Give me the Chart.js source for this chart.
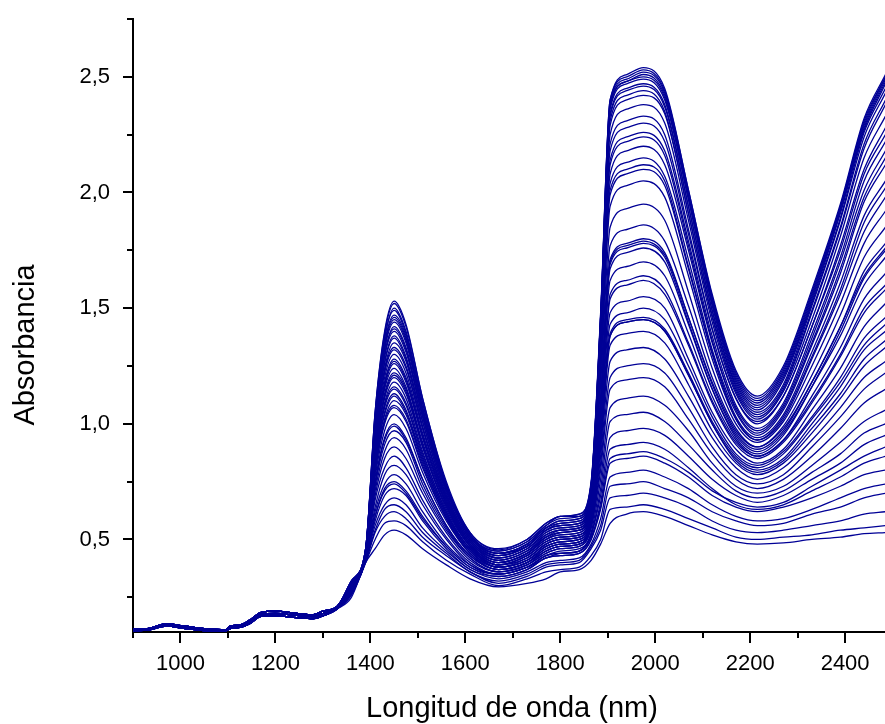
<!DOCTYPE html>
<html>
<head>
<meta charset="utf-8">
<title>Absorbancia NIR</title>
<script src="https://cdn.jsdelivr.net/npm/chart.js@4.4.1/dist/chart.umd.min.js"></script>
<style>
  body { margin: 0; background: #fff; }
  canvas { display: block; }
</style>
</head>
<body>
<canvas id="spectraChart" width="885" height="724"></canvas>
<script>
// axis text
const xTitle = "Longitud de onda (nm)";
const yTitle = "Absorbancia";

// tick values
const xMajorTicks = [1000, 1200, 1400, 1600, 1800, 2000, 2200, 2400];
const xMinorTicks = [900, 1100, 1300, 1500, 1700, 1900, 2100, 2300];
const yMajorTicks = [0.5, 1.0, 1.5, 2.0, 2.5];
const yMinorTicks = [0.25, 0.75, 1.25, 1.75, 2.25, 2.75];
const yTickLabels = ["0,5", "1,0", "1,5", "2,0", "2,5"];

// short-wave part, nearly the same for every sample (three bands of the bundle)
const wavelengthsLow = [900, 930, 970, 1010, 1050, 1095, 1105, 1125, 1145, 1170, 1200, 1245, 1280, 1300];
const baseHigh = [0.115, 0.115, 0.135, 0.125, 0.115, 0.11, 0.125, 0.13, 0.15, 0.185, 0.19, 0.18, 0.175, 0.19];
const baseMid = [0.11, 0.112, 0.13, 0.12, 0.11, 0.107, 0.12, 0.125, 0.143, 0.177, 0.18, 0.172, 0.167, 0.18];
const baseLow = [0.105, 0.108, 0.125, 0.115, 0.106, 0.104, 0.115, 0.12, 0.135, 0.168, 0.17, 0.162, 0.158, 0.17];

// main part of the spectra
const wavelengths = [1330, 1360, 1390, 1410, 1430, 1450, 1475, 1510, 1560, 1610, 1670, 1730, 1770, 1800, 1840,
  1865, 1885, 1905, 1940, 1975, 2020, 2070, 2120, 2170, 2215, 2270, 2330, 2390, 2440, 2485];

const s01 = [0.21,0.32,0.46,1.05,1.40,1.53,1.43,1.11,0.75,0.53,0.46,0.50,0.57,0.60,0.61,0.75,1.48,2.40,2.51,2.54,2.45,2.01,1.56,1.23,1.12,1.25,1.58,1.95,2.32,2.51];
const s02 = [0.21,0.32,0.46,1.04,1.37,1.50,1.40,1.09,0.74,0.52,0.45,0.49,0.56,0.59,0.60,0.74,1.46,2.39,2.49,2.52,2.43,1.99,1.54,1.21,1.10,1.23,1.56,1.94,2.30,2.50];
const s03 = [0.21,0.32,0.46,1.02,1.35,1.47,1.38,1.07,0.73,0.52,0.44,0.48,0.55,0.58,0.59,0.73,1.46,2.37,2.48,2.50,2.41,1.97,1.52,1.19,1.08,1.21,1.54,1.92,2.28,2.48];
const s04 = [0.21,0.31,0.45,1.01,1.33,1.45,1.36,1.06,0.72,0.51,0.44,0.48,0.55,0.57,0.58,0.71,1.43,2.33,2.44,2.46,2.37,1.94,1.49,1.17,1.06,1.19,1.52,1.89,2.26,2.45];
const s05 = [0.21,0.31,0.45,0.99,1.30,1.42,1.33,1.04,0.71,0.51,0.43,0.47,0.54,0.56,0.57,0.70,1.40,2.29,2.40,2.42,2.34,1.91,1.47,1.15,1.04,1.16,1.49,1.85,2.21,2.40];
const s06 = [0.21,0.31,0.45,0.98,1.29,1.40,1.31,1.03,0.70,0.50,0.43,0.47,0.54,0.56,0.57,0.70,1.38,2.25,2.36,2.38,2.30,1.88,1.44,1.13,1.02,1.14,1.45,1.81,2.15,2.33];
const s07 = [0.21,0.31,0.45,0.97,1.27,1.38,1.29,1.01,0.69,0.50,0.42,0.46,0.53,0.55,0.56,0.69,1.36,2.21,2.31,2.33,2.25,1.84,1.41,1.11,1.00,1.12,1.42,1.77,2.10,2.28];
const s08 = [0.21,0.31,0.45,0.95,1.24,1.35,1.27,0.99,0.68,0.49,0.42,0.46,0.52,0.54,0.55,0.68,1.32,2.14,2.24,2.26,2.18,1.79,1.38,1.08,0.98,1.09,1.39,1.72,2.05,2.22];
const s09 = [0.21,0.31,0.45,0.94,1.23,1.33,1.25,0.98,0.68,0.49,0.41,0.45,0.52,0.54,0.55,0.67,1.29,2.08,2.18,2.20,2.12,1.75,1.35,1.07,0.97,1.08,1.37,1.70,2.01,2.18];
const s10 = [0.21,0.31,0.45,0.92,1.20,1.30,1.22,0.96,0.67,0.48,0.41,0.45,0.51,0.53,0.54,0.66,1.26,2.04,2.13,2.15,2.07,1.71,1.32,1.05,0.95,1.06,1.34,1.65,1.96,2.12];
const s11 = [0.21,0.30,0.44,0.91,1.18,1.28,1.20,0.95,0.66,0.48,0.40,0.44,0.51,0.53,0.54,0.66,1.25,2.01,2.10,2.12,2.05,1.68,1.31,1.03,0.94,1.04,1.31,1.61,1.90,2.05];
const s12 = [0.21,0.30,0.44,0.90,1.16,1.26,1.18,0.94,0.65,0.48,0.40,0.44,0.50,0.52,0.53,0.65,1.21,1.94,2.03,2.05,1.98,1.64,1.28,1.02,0.93,1.02,1.28,1.56,1.83,1.98];
const s13 = [0.21,0.30,0.44,0.89,1.15,1.24,1.16,0.92,0.65,0.47,0.40,0.44,0.50,0.52,0.53,0.64,1.17,1.85,1.93,1.95,1.88,1.57,1.24,1.00,0.92,1.01,1.25,1.52,1.78,1.92];
const s14 = [0.21,0.30,0.44,0.87,1.13,1.22,1.15,0.91,0.64,0.47,0.39,0.43,0.49,0.51,0.52,0.63,1.12,1.77,1.84,1.86,1.79,1.51,1.20,0.98,0.90,0.99,1.21,1.47,1.72,1.85];
const s15 = [0.21,0.30,0.44,0.86,1.11,1.20,1.13,0.90,0.63,0.47,0.39,0.43,0.49,0.51,0.52,0.62,1.10,1.71,1.78,1.80,1.74,1.46,1.17,0.96,0.89,0.97,1.18,1.42,1.66,1.78];
const s16 = [0.21,0.30,0.44,0.85,1.09,1.18,1.11,0.88,0.62,0.46,0.39,0.42,0.48,0.50,0.51,0.61,1.07,1.67,1.74,1.76,1.70,1.43,1.15,0.95,0.88,0.96,1.16,1.38,1.60,1.72];
const s17 = [0.21,0.30,0.44,0.83,1.07,1.15,1.08,0.86,0.61,0.46,0.38,0.42,0.48,0.50,0.51,0.61,1.05,1.62,1.68,1.70,1.64,1.39,1.12,0.93,0.86,0.93,1.12,1.33,1.54,1.65];
const s18 = [0.20,0.29,0.43,0.82,1.04,1.12,1.05,0.84,0.60,0.45,0.38,0.41,0.47,0.49,0.50,0.60,1.00,1.54,1.60,1.62,1.56,1.34,1.09,0.91,0.85,0.92,1.09,1.29,1.48,1.58];
const s19 = [0.20,0.29,0.43,0.81,1.02,1.10,1.04,0.83,0.60,0.45,0.38,0.41,0.47,0.49,0.50,0.59,0.97,1.48,1.53,1.55,1.50,1.28,1.05,0.89,0.83,0.89,1.06,1.24,1.42,1.52];
const s20 = [0.20,0.29,0.43,0.79,1.00,1.07,1.01,0.81,0.59,0.44,0.37,0.40,0.46,0.48,0.49,0.58,0.94,1.43,1.48,1.50,1.45,1.25,1.03,0.87,0.82,0.88,1.03,1.20,1.37,1.46];
const s21 = [0.20,0.29,0.43,0.77,0.97,1.04,0.98,0.79,0.58,0.44,0.37,0.40,0.46,0.48,0.49,0.58,0.92,1.38,1.44,1.45,1.40,1.21,1.00,0.85,0.80,0.85,1.00,1.16,1.32,1.40];
const s22 = [0.20,0.29,0.43,0.75,0.94,1.00,0.94,0.76,0.56,0.43,0.37,0.40,0.45,0.47,0.48,0.57,0.89,1.34,1.39,1.40,1.35,1.17,0.97,0.83,0.78,0.83,0.96,1.11,1.25,1.33];
const s23 = [0.20,0.29,0.43,0.73,0.91,0.97,0.92,0.74,0.55,0.42,0.36,0.39,0.45,0.47,0.48,0.56,0.86,1.27,1.32,1.33,1.28,1.12,0.94,0.81,0.76,0.81,0.93,1.07,1.20,1.27];
const s24 = [0.20,0.28,0.42,0.71,0.88,0.94,0.89,0.72,0.54,0.42,0.36,0.39,0.44,0.46,0.47,0.55,0.83,1.20,1.25,1.26,1.22,1.07,0.90,0.78,0.74,0.78,0.90,1.03,1.15,1.22];
const s25 = [0.20,0.28,0.42,0.69,0.85,0.90,0.85,0.70,0.53,0.41,0.36,0.39,0.44,0.46,0.47,0.55,0.80,1.15,1.19,1.20,1.16,1.02,0.87,0.76,0.72,0.76,0.86,0.98,1.09,1.15];
const s26 = [0.20,0.28,0.42,0.67,0.81,0.86,0.81,0.67,0.51,0.40,0.35,0.38,0.43,0.45,0.46,0.53,0.76,1.07,1.11,1.12,1.08,0.97,0.83,0.73,0.70,0.73,0.82,0.92,1.01,1.06];
const s27 = [0.20,0.28,0.42,0.64,0.78,0.82,0.78,0.65,0.50,0.39,0.35,0.38,0.43,0.44,0.45,0.52,0.72,1.01,1.04,1.05,1.01,0.91,0.80,0.71,0.68,0.71,0.79,0.87,0.96,1.00];
const s28 = [0.20,0.27,0.41,0.62,0.74,0.78,0.74,0.62,0.48,0.39,0.35,0.38,0.43,0.44,0.45,0.52,0.69,0.94,0.97,0.98,0.95,0.86,0.76,0.69,0.66,0.69,0.76,0.83,0.91,0.95];
const s29 = [0.20,0.27,0.41,0.60,0.71,0.74,0.70,0.59,0.47,0.38,0.34,0.37,0.42,0.43,0.44,0.50,0.66,0.89,0.91,0.92,0.89,0.81,0.72,0.65,0.63,0.65,0.71,0.77,0.83,0.86];
const s30 = [0.20,0.27,0.41,0.58,0.69,0.72,0.69,0.58,0.46,0.37,0.34,0.37,0.42,0.43,0.44,0.50,0.63,0.83,0.85,0.86,0.83,0.77,0.69,0.64,0.62,0.64,0.68,0.73,0.78,0.80];
const s31 = [0.20,0.27,0.41,0.56,0.65,0.68,0.65,0.55,0.45,0.37,0.33,0.36,0.40,0.41,0.42,0.48,0.59,0.77,0.79,0.80,0.77,0.72,0.65,0.60,0.58,0.59,0.63,0.68,0.72,0.74];
const s32 = [0.20,0.27,0.41,0.54,0.63,0.65,0.62,0.53,0.44,0.36,0.32,0.35,0.39,0.40,0.41,0.47,0.56,0.73,0.74,0.75,0.72,0.68,0.62,0.58,0.56,0.57,0.61,0.64,0.68,0.70];
const s33 = [0.20,0.26,0.40,0.53,0.60,0.62,0.59,0.51,0.43,0.36,0.31,0.34,0.38,0.39,0.40,0.46,0.54,0.68,0.69,0.70,0.68,0.64,0.58,0.54,0.53,0.54,0.56,0.58,0.61,0.62];
const s34 = [0.20,0.26,0.40,0.50,0.57,0.58,0.56,0.49,0.41,0.35,0.30,0.33,0.36,0.37,0.38,0.43,0.50,0.63,0.64,0.65,0.63,0.59,0.55,0.51,0.50,0.51,0.52,0.54,0.55,0.56];
const s35 = [0.20,0.25,0.40,0.46,0.52,0.54,0.52,0.46,0.39,0.33,0.295,0.31,0.33,0.36,0.37,0.41,0.48,0.57,0.61,0.62,0.60,0.56,0.52,0.49,0.48,0.485,0.50,0.51,0.525,0.53];
// extra samples inside the dense bands
const s36 = [0.21,0.32,0.46,1.05,1.39,1.52,1.42,1.11,0.74,0.53,0.455,0.50,0.57,0.60,0.61,0.74,1.47,2.40,2.50,2.53,2.44,2.01,1.55,1.22,1.11,1.24,1.57,1.94,2.31,2.50];
const s37 = [0.21,0.32,0.46,1.03,1.37,1.49,1.39,1.09,0.73,0.52,0.45,0.49,0.56,0.60,0.60,0.74,1.46,2.38,2.48,2.51,2.42,1.99,1.53,1.20,1.09,1.22,1.55,1.93,2.29,2.49];
const s38 = [0.21,0.32,0.46,1.01,1.34,1.46,1.37,1.07,0.72,0.52,0.44,0.48,0.55,0.58,0.59,0.72,1.44,2.36,2.47,2.49,2.40,1.97,1.51,1.18,1.07,1.20,1.53,1.91,2.27,2.47];
const s39 = [0.21,0.31,0.45,1.00,1.32,1.44,1.35,1.05,0.72,0.51,0.44,0.47,0.54,0.57,0.58,0.71,1.43,2.34,2.45,2.47,2.38,1.94,1.49,1.16,1.05,1.17,1.51,1.88,2.24,2.43];
const s40 = [0.21,0.31,0.45,0.99,1.30,1.41,1.32,1.03,0.71,0.51,0.43,0.47,0.54,0.56,0.57,0.70,1.41,2.31,2.42,2.44,2.35,1.91,1.46,1.14,1.03,1.15,1.48,1.84,2.19,2.38];
const s41 = [0.21,0.31,0.45,0.96,1.26,1.37,1.28,1.01,0.69,0.50,0.42,0.46,0.53,0.55,0.56,0.69,1.34,2.18,2.28,2.30,2.22,1.82,1.41,1.11,1.01,1.12,1.42,1.75,2.08,2.25];
const s42 = [0.21,0.31,0.45,0.93,1.22,1.32,1.24,0.98,0.67,0.49,0.41,0.45,0.51,0.54,0.55,0.67,1.31,2.12,2.22,2.24,2.16,1.77,1.36,1.06,0.96,1.07,1.35,1.67,1.98,2.15];
const s43 = [0.21,0.30,0.44,0.90,1.17,1.27,1.19,0.94,0.66,0.48,0.40,0.44,0.50,0.53,0.54,0.65,1.24,1.99,2.08,2.10,2.03,1.67,1.30,1.02,0.93,1.03,1.29,1.58,1.87,2.02];
const s44 = [0.21,0.30,0.44,0.87,1.12,1.21,1.14,0.90,0.64,0.47,0.39,0.43,0.49,0.51,0.52,0.62,1.09,1.70,1.77,1.79,1.73,1.46,1.18,0.97,0.90,0.98,1.18,1.42,1.64,1.76];
const s45 = [0.21,0.30,0.44,0.84,1.08,1.16,1.09,0.87,0.62,0.46,0.39,0.42,0.48,0.50,0.51,0.61,1.08,1.69,1.76,1.78,1.72,1.44,1.15,0.94,0.87,0.95,1.16,1.40,1.63,1.75];
const s46 = [0.21,0.30,0.44,0.82,1.05,1.13,1.06,0.85,0.61,0.45,0.38,0.41,0.47,0.49,0.50,0.60,1.01,1.56,1.62,1.64,1.58,1.35,1.10,0.92,0.86,0.93,1.10,1.30,1.50,1.60];
const s47 = [0.20,0.29,0.43,0.79,1.01,1.08,1.02,0.82,0.59,0.44,0.38,0.41,0.46,0.48,0.49,0.58,0.93,1.39,1.45,1.46,1.41,1.22,1.01,0.86,0.81,0.87,1.02,1.18,1.34,1.43];
const s48 = [0.20,0.29,0.43,0.74,0.93,0.99,0.93,0.76,0.56,0.43,0.37,0.40,0.45,0.47,0.48,0.57,0.92,1.38,1.44,1.45,1.40,1.21,1.00,0.84,0.79,0.84,0.98,1.13,1.28,1.36];
const s49 = [0.20,0.27,0.41,0.60,0.72,0.75,0.71,0.60,0.47,0.38,0.35,0.38,0.42,0.44,0.45,0.51,0.64,0.85,0.87,0.88,0.85,0.79,0.71,0.66,0.64,0.66,0.73,0.80,0.86,0.90];

const spectra = [s01, s02, s03, s04, s05, s06, s07, s08, s09, s10, s11, s12, s13, s14, s15, s16, s17, s18,
  s19, s20, s21, s22, s23, s24, s25, s26, s27, s28, s29, s30, s31, s32, s33, s34, s35,
  s36, s37, s38, s39, s40, s41, s42, s43, s44, s45, s46, s47, s48, s49];
// which short-wave band each sample follows (0 high, 1 mid, 2 low)
const baselineIndex = [0,0,0,0,0,0,0,0,0,0,0,0, 1,1,1,1,1,1,1,1,1,1,1,1, 2,2,2,2,2,2,2,2,2,2,2,
  0,0,0,0,0, 1,1,1,1,1, 2,2,2,2];
const baselines = [baseHigh, baseMid, baseLow];

const lineColor = "#000096";
const fontFamily = "'Liberation Sans', Arial, sans-serif";

// build the datasets from the arrays above
const datasets = spectra.map((values, i) => {
  const base = baselines[baselineIndex[i]];
  const lowPart = wavelengthsLow.map((x, j) => ({ x: x, y: base[j] }));
  const mainPart = wavelengths.map((x, j) => ({ x: x, y: values[j] }));
  return {
    label: "Muestra " + (i + 1),
    data: lowPart.concat(mainPart),
    borderColor: lineColor,
    borderWidth: 1.3,
    pointRadius: 0,
    fill: false,
    cubicInterpolationMode: "monotone"
  };
});

// outward tick marks, long for labelled values and short in between
const tickMarks = {
  id: "tickMarks",
  afterDraw(chart) {
    const { ctx, chartArea } = chart;
    const xScale = chart.scales.x;
    const yScale = chart.scales.y;
    ctx.save();
    ctx.strokeStyle = "#000";
    ctx.lineWidth = 2;
    ctx.beginPath();
    xMajorTicks.forEach(v => {
      const px = Math.round(xScale.getPixelForValue(v));
      ctx.moveTo(px, chartArea.bottom);
      ctx.lineTo(px, chartArea.bottom + 11);
    });
    xMinorTicks.forEach(v => {
      const px = Math.round(xScale.getPixelForValue(v));
      ctx.moveTo(px, chartArea.bottom);
      ctx.lineTo(px, chartArea.bottom + 6);
    });
    yMajorTicks.forEach(v => {
      const py = Math.round(yScale.getPixelForValue(v));
      ctx.moveTo(chartArea.left, py);
      ctx.lineTo(chartArea.left - 10, py);
    });
    yMinorTicks.forEach(v => {
      const py = Math.round(yScale.getPixelForValue(v));
      ctx.moveTo(chartArea.left, py);
      ctx.lineTo(chartArea.left - 6, py);
    });
    ctx.stroke();
    ctx.restore();
  }
};

// axis titles
const axisTitles = {
  id: "axisTitles",
  afterDraw(chart) {
    const ctx = chart.ctx;
    ctx.save();
    ctx.fillStyle = "#000";
    ctx.font = "29px " + fontFamily;
    ctx.textAlign = "center";
    ctx.textBaseline = "alphabetic";
    ctx.fillText(xTitle, 512, 717);
    ctx.translate(34, 345);
    ctx.rotate(-Math.PI / 2);
    ctx.fillText(yTitle, 0, 0);
    ctx.restore();
  }
};

const chart = new Chart(document.getElementById("spectraChart"), {
  type: "line",
  data: { datasets: datasets },
  plugins: [tickMarks, axisTitles],
  options: {
    responsive: false,
    devicePixelRatio: 1,
    animation: false,
    events: [],
    layout: { padding: { top: 19, right: 0, bottom: 0, left: 0 } },
    plugins: {
      legend: { display: false },
      tooltip: { enabled: false }
    },
    scales: {
      x: {
        type: "linear",
        min: 900,
        max: 2484,
        afterFit: scale => { scale.height = 92; },
        afterBuildTicks: scale => {
          scale.ticks = xMinorTicks.concat(xMajorTicks).sort((a, b) => a - b).map(v => ({ value: v }));
        },
        ticks: {
          autoSkip: false,
          maxRotation: 0,
          padding: 3,
          color: "#000",
          font: { family: fontFamily, size: 22 },
          callback: value => (xMajorTicks.includes(value) ? String(value) : null)
        },
        grid: { display: false, drawTicks: true, tickLength: 16 },
        border: { display: true, color: "#000", width: 2 }
      },
      y: {
        type: "linear",
        min: 0.1,
        max: 2.75,
        afterFit: scale => { scale.width = 133; },
        afterBuildTicks: scale => {
          scale.ticks = yMinorTicks.concat(yMajorTicks).sort((a, b) => a - b).map(v => ({ value: v }));
        },
        ticks: {
          autoSkip: false,
          padding: 3,
          color: "#000",
          font: { family: fontFamily, size: 22 },
          callback: value => {
            const idx = yMajorTicks.indexOf(value);
            return idx >= 0 ? yTickLabels[idx] : null;
          }
        },
        grid: { display: false, drawTicks: true, tickLength: 20 },
        border: { display: true, color: "#000", width: 2 }
      }
    }
  }
});
</script>
</body>
</html>
